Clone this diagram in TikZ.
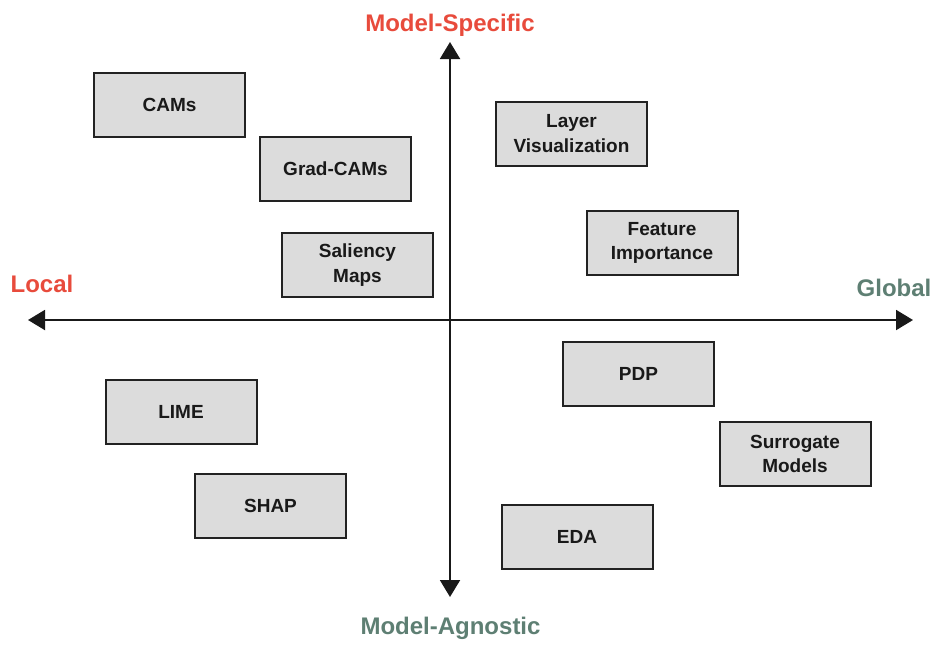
\documentclass[tikz,border=0pt]{standalone}
\usepackage{fontspec}
\setmainfont{Liberation Sans}
\usetikzlibrary{arrows.meta}
\definecolor{specred}{HTML}{E84B3C}
\definecolor{agngreen}{HTML}{5E7F73}
\definecolor{boxgray}{HTML}{DCDCDC}
\definecolor{boxline}{HTML}{222222}
\begin{document}
\begin{tikzpicture}[x=1pt,y=-1pt,
  method/.style={draw=boxline, line width=2pt, fill=boxgray, minimum width=151pt, minimum height=64pt,
    inner sep=0pt, align=center, font=\fontsize{19}{24.5}\selectfont\bfseries, text=black!90},
  axislabel/.style={font=\fontsize{24}{28}\selectfont\bfseries, anchor=base, inner sep=0pt},
  axis/.style={line width=2pt, draw=black!90, {Triangle[width=20pt,length=17pt]}-{Triangle[width=20pt,length=17pt]}}]
\useasboundingbox (0,0) rectangle (942,651);
\fill[white] (0,0) rectangle (942,651);
% axes
\coordinate (top) at (450,42);
\coordinate (bot) at (450,597);
\coordinate (lft) at (28,320);
\coordinate (rgt) at (913,320);
\draw[axis] (bot) -- (top);
\draw[axis] (lft) -- (rgt);
% axis labels
\node[axislabel, text=specred] (ms) at (450,31) {Model-Specific};
\node[axislabel, text=agngreen] (ma) at (450.5,634) {Model-Agnostic};
\node[axislabel, text=specred] (loc) at (42,292) {Local};
\node[axislabel, text=agngreen] (glob) at (894,296) {Global};
% methods
\node[method] (cams) at (169.5,105) {CAMs};
\node[method] (grad) at (335.5,169) {Grad-CAMs};
\node[method] (sal) at (357.5,265) {Saliency\\Maps};
\node[method] (layer) at (571.5,133.5) {Layer\\Visualization};
\node[method] (feat) at (662,243) {Feature\\Importance};
\node[method] (lime) at (181,411.5) {LIME};
\node[method] (shap) at (270.5,505.5) {SHAP};
\node[method] (pdp) at (638.5,373.5) {PDP};
\node[method] (surr) at (795,454) {Surrogate\\Models};
\node[method] (eda) at (577,537) {EDA};
\end{tikzpicture}
\end{document}
